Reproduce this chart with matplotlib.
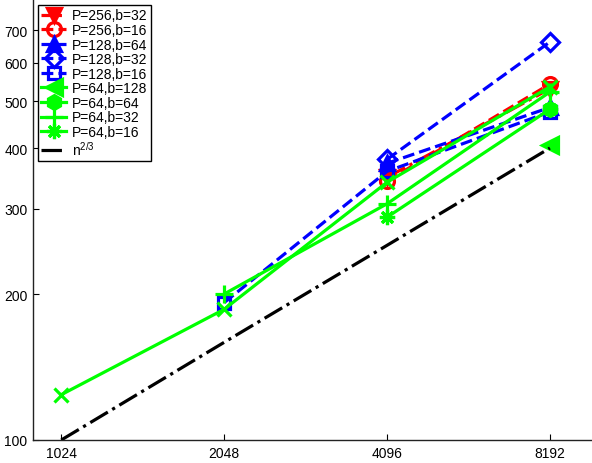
import numpy as np
import matplotlib
matplotlib.use("Agg")
import matplotlib.pyplot as plt

plt.rcParams['font.family'] = ['Liberation Sans', 'DejaVu Sans']
plt.rcParams['mathtext.fontset'] = 'custom'
plt.rcParams['mathtext.rm'] = 'Liberation Sans'

nan = np.nan
n_values = [1024, 2048, 4096, 8192]
x_tick_labels = ['1024', '2048', '4096', '8192']
y_ticks = [100, 200, 300, 400, 500, 600, 700]

p256_b32 = [nan, nan, 348, 530]
p256_b16 = [nan, nan, 342, 542]
p128_b64 = [nan, nan, 372, 485]
p128_b32 = [nan, nan, 379, 662]
p128_b16 = [nan, 192, 358, 475]
p64_b128 = [nan, nan, nan, 405]
p64_b64 = [nan, nan, nan, 482]
p64_b32 = [nan, 200, 307, 522]
p64_b16 = [nan, nan, 288, 481]
extra_x = [124, 186, 340, 535]
n_two_thirds = [100, 159, 252, 400]

RED, BLUE, GREEN = '#ff0000', '#0000ff', '#00ff00'

fig = plt.figure(figsize=(5.92, 4.64), dpi=100)
W, H = 592, 464
ax = fig.add_axes([33 / W, (H - 441) / H, (W - 33) / W, 441 / H])

lw = 2.3
mew = 2.3
series = [
    (p256_b32, 'P=256,b=32', RED, '-.', 'v', RED, 10),
    (p256_b16, 'P=256,b=16', RED, '--', 'o', 'none', 10),
    (p128_b64, 'P=128,b=64', BLUE, '--', '^', BLUE, 10),
    (p128_b32, 'P=128,b=32', BLUE, '--', 'D', 'none', 9),
    (p128_b16, 'P=128,b=16', BLUE, '--', 's', 'none', 9),
    (p64_b128, 'P=64,b=128', GREEN, '-', '<', GREEN, 11),
    (p64_b64, 'P=64,b=64', GREEN, '-', 'h', GREEN, 10),
    (p64_b32, 'P=64,b=32', GREEN, '-', '+', GREEN, 13),
    (p64_b16, 'P=64,b=16', GREEN, '-', (8, 2, 0), GREEN, 11),
]
for vals, lab, col, ls, mk, fc, ms in series:
    ax.plot(n_values, vals, linestyle=ls, color=col, lw=lw, marker=mk,
            markerfacecolor=fc, markeredgecolor=col, markeredgewidth=mew,
            markersize=ms, label=lab)

ax.plot(n_values, extra_x, linestyle='-', color=GREEN, lw=lw, marker='x',
        markeredgewidth=mew, markersize=10)
ax.plot(n_values, n_two_thirds, linestyle='-.', color='black', lw=lw,
        label=r'n$^{2/3}$')

ax.set_xscale('log', base=2)
ax.set_yscale('log')
ax.set_xlim(908, 9797)
ax.set_ylim(100, 811.6)
ax.set_xticks(n_values)
ax.set_xticklabels(x_tick_labels)
ax.set_yticks(y_ticks)
ax.set_yticklabels([str(v) for v in y_ticks])
ax.minorticks_off()
ax.tick_params(direction='in', length=4, width=0.8, labelsize=10, colors='black', pad=4)
for s in ['top', 'right']:
    ax.spines[s].set_visible(False)
for s in ['left', 'bottom']:
    ax.spines[s].set_linewidth(1.0)
    ax.spines[s].set_color('#222222')

leg = ax.legend(loc='upper left', bbox_to_anchor=(38 / W, 1 - 6 / H),
                bbox_transform=fig.transFigure, borderaxespad=0,
                fontsize=10, numpoints=1, handlelength=1.8, handletextpad=0.4,
                labelspacing=0.04, borderpad=0.25, fancybox=False, framealpha=1,
                edgecolor='black')
leg.get_frame().set_linewidth(1.0)

fig.savefig('out.png', dpi=100)
